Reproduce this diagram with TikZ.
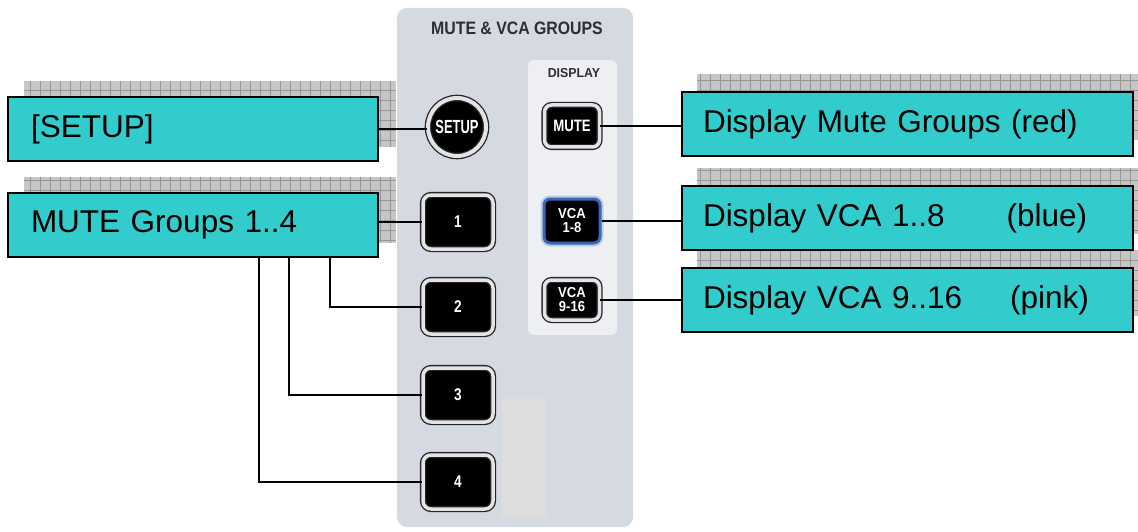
\documentclass[tikz,border=0pt]{standalone}
\usepackage{fontspec}
\usepackage{graphicx}
\setmainfont{Liberation Sans}
\usetikzlibrary{backgrounds,calc}
\definecolor{boxfill}{RGB}{51,204,204}
\definecolor{shadowfill}{RGB}{198,198,198}
\definecolor{shadowgrid}{RGB}{150,150,150}
\definecolor{panelfill}{RGB}{213,217,226}
\definecolor{dispfill}{RGB}{237,239,243}
\definecolor{squarefill}{RGB}{221,221,221}
\definecolor{ringfill}{RGB}{228,228,232}
\definecolor{vcablue}{RGB}{55,105,180}
\definecolor{titlegray}{RGB}{45,45,50}
\newcommand{\narrowtext}[2]{\scalebox{#1}[1]{#2}}
\begin{document}
\begin{tikzpicture}[x=1pt,y=-1pt,
  callout/.style={draw=black, line width=1.2pt, fill=boxfill, minimum height=64pt,
    align=left, font=\fontsize{31.5}{36}\selectfont, anchor=center},
  leftbox/.style={callout, inner xsep=23pt, text width=324pt},
  rightbox/.style={callout, inner xsep=21pt, text width=409pt},
  shadowbox/.style={fill=shadowfill, path picture={\draw[shadowgrid, line width=0.5pt, step=10pt]
    (path picture bounding box.south west) grid (path picture bounding box.north east);}},
  hwbtn/.style={rectangle, rounded corners=8pt, fill=black, draw=black!85, line width=1.3pt,
    double=ringfill, double distance=3.5pt, text=white, align=center, inner sep=0pt,
    font=\bfseries\fontsize{17}{18}\selectfont},
  link/.style={draw=black, line width=1.4pt}
]
\clip (0,0) rectangle (1138,532);

% panel
\fill[panelfill, rounded corners=10pt] (397,8) rectangle (633,527);
\fill[dispfill, rounded corners=6pt] (528,60) rectangle (617,335);
\fill[squarefill] (502,397) rectangle (546,517);
\node[text=titlegray, font=\bfseries\fontsize{18}{20}\selectfont] (title) at (517,28) {\narrowtext{0.88}{MUTE \& VCA GROUPS}};
\node[text=titlegray, font=\bfseries\fontsize{13}{14}\selectfont] (disp) at (574,73) {\narrowtext{0.95}{DISPLAY}};

% hardware buttons
\node[hwbtn, circle, rounded corners=0pt, minimum size=58pt, double distance=4pt,
  font=\bfseries\fontsize{19}{20}\selectfont] (setup) at (457,127) {\narrowtext{0.68}{SETUP}};
\node[hwbtn, minimum width=70pt, minimum height=54pt] (b1) at (458,222) {\narrowtext{0.8}{1}};
\node[hwbtn, minimum width=70pt, minimum height=54pt] (b2) at (458,307) {\narrowtext{0.8}{2}};
\node[hwbtn, minimum width=70pt, minimum height=54pt] (b3) at (458,395) {\narrowtext{0.8}{3}};
\node[hwbtn, minimum width=70pt, minimum height=54pt] (b4) at (458,482) {\narrowtext{0.8}{4}};
\node[hwbtn, minimum width=55pt, minimum height=42pt, rounded corners=7pt,
  font=\bfseries\fontsize{16.5}{17}\selectfont] (mutebtn) at (572,126) {\narrowtext{0.8}{MUTE}};
\node[rectangle, rounded corners=6pt, fill=black, draw=vcablue, line width=3pt,
  preaction={draw=vcablue!60, line width=7pt, opacity=0.45},
  minimum width=56pt, minimum height=44pt, text=white, align=center, inner sep=0pt,
  font=\bfseries\fontsize{14.5}{14}\selectfont] (vca1) at (572,221) {\narrowtext{0.9}{VCA}\\\narrowtext{0.9}{1-8}};
\node[hwbtn, minimum width=55pt, minimum height=40pt, rounded corners=7pt,
  font=\bfseries\fontsize{14.5}{14}\selectfont] (vca2) at (572,300) {\narrowtext{0.9}{VCA}\\\narrowtext{0.9}{9-16}};

% callout boxes
\node[leftbox] (setupbox) at (193,129) {[SETUP]};
\node[leftbox] (mutebox) at (193,225) {MUTE Groups 1..4};
\node[rightbox] (dmute) at (907.5,124) {Display Mute Groups (red)};
\node[rightbox] (dvca1) at (907.5,218) {Display VCA 1..8\hspace*{62pt}(blue)};
\node[rightbox] (dvca2) at (907.5,300) {Display VCA 9..16\hspace*{48pt}(pink)};

\begin{pgfonlayer}{background}
  \fill[white] (0,0) rectangle (1138,532);
  \path[shadowbox] ($(setupbox.south west)+(17,-15)$) rectangle ($(setupbox.north east)+(17,-15)$);
  \path[shadowbox] ($(mutebox.south west)+(17,-15)$) rectangle ($(mutebox.north east)+(17,-15)$);
  \path[shadowbox] ($(dmute.south west)+(16,-17)$) rectangle ($(dmute.north east)+(16,-17)$);
  \path[shadowbox] ($(dvca1.south west)+(16,-17)$) rectangle ($(dvca1.north east)+(16,-17)$);
  \path[shadowbox] ($(dvca2.south west)+(16,-17)$) rectangle ($(dvca2.north east)+(16,-17)$);
\end{pgfonlayer}

% connectors
\coordinate (v4) at (259,0);
\coordinate (v3) at (289,0);
\coordinate (v2) at (330,0);
\draw[link] (setupbox.east) -- (setupbox.east -| setup.west);
\draw[link] (b1.west -| mutebox.east) -- (b1.west);
\draw[link] (v2 |- mutebox.south) |- (b2.west);
\draw[link] (v3 |- mutebox.south) |- (b3.west);
\draw[link] (v4 |- mutebox.south) |- (b4.west);
\draw[link] (mutebtn.east) -- (mutebtn.east -| dmute.west);
\draw[link] (vca1.east) -- (vca1.east -| dvca1.west);
\draw[link] (vca2.east) -- (vca2.east -| dvca2.west);
\end{tikzpicture}
\end{document}
